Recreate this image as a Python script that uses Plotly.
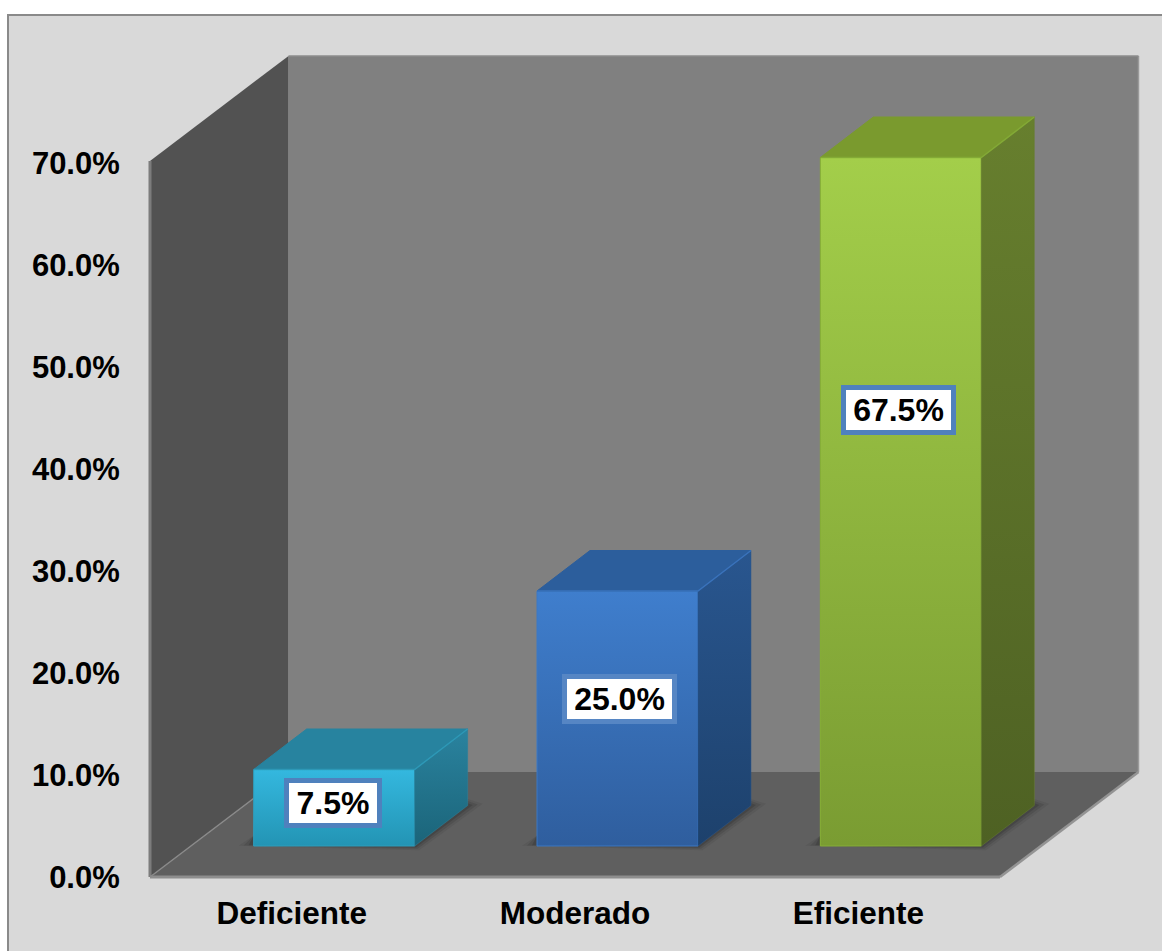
import plotly.graph_objects as go

# ---- data ----
categories = ["Deficiente", "Moderado", "Eficiente"]
values = [7.5, 25.0, 67.5]
value_labels = ["7.5%", "25.0%", "67.5%"]
y_ticks = [0, 10, 20, 30, 40, 50, 60, 70]

# ---- 3-D look (styles and projection, not data) ----
W, H = 1162, 951
PX_X = 283.33        # px per category band
PX_Y = 10.2          # px per percentage point
L, R, T, B = 146, 1143, 54, 881   # plot area in px
X0_PX, Y0_PX = 150, 877           # where category edge -0.5 and 0 % fall
xr = [-0.5 - (X0_PX - L) / PX_X, -0.5 + (R - X0_PX) / PX_X]
yr = [-(B - Y0_PX) / PX_Y, (Y0_PX - T) / PX_Y]

WALL_DX, WALL_DY = 138.5 / PX_X, 105 / PX_Y
BAR_DX, BAR_DY = 53 / PX_X, 40.5 / PX_Y
BAR_W = 161 / PX_X
BAR_SHIFT = 42.5 / PX_X
BAR_BASE = 31 / PX_Y
AXIS_TOP = 70.2

front_colors = [("#34b8df", "#2394b4"), ("#3f7ecd", "#2f5e9e"), ("#a3ce4a", "#7a9c32")]
side_colors = [("#2a839f", "#1b6479"), ("#29568f", "#1d416c"), ("#677f2e", "#4e6123")]
top_colors = ["#27839f", "#2c5e9c", "#7a9a2e"]
edge_colors = ["#2f9ebd", "#3d78c4", "#86ae38"]
box_colors = ["#4f81bd", "#5686c4", "#4f81bd"]
label_y = [7.3, 17.5, 45.8]
label_dx = [-1.5 / PX_X, 2 / PX_X, -2 / PX_X]
label_w = [84, 101, 101]
FONT = "Liberation Sans, Arial, sans-serif"

xa, xb = -0.5, 2.5


def poly(xs, ys, color, line=None, lw=0):
    path = "M " + " L ".join(f"{x},{y}" for x, y in zip(xs, ys)) + " Z"
    return dict(type="path", path=path, xref="x", yref="y", layer="below",
                fillcolor=color, line=dict(color=line or "rgba(0,0,0,0)", width=lw))


shapes = [
    dict(type="rect", xref="paper", yref="paper", layer="below",
         x0=(8 - L) / (R - L), x1=(W + 20 - L) / (R - L),
         y0=(B - (H + 20)) / (B - T), y1=(B - 15) / (B - T),
         fillcolor="#d9d9d9", line=dict(color="#8a8a8a", width=2)),
    # back wall
    poly([xa + WALL_DX, xb + WALL_DX, xb + WALL_DX, xa + WALL_DX],
         [WALL_DY, WALL_DY, AXIS_TOP + WALL_DY, AXIS_TOP + WALL_DY], "#808080"),
    # side wall
    poly([xa, xa + WALL_DX, xa + WALL_DX, xa],
         [0, WALL_DY, AXIS_TOP + WALL_DY, AXIS_TOP], "#525252"),
    # floor
    poly([xa, xb, xb + WALL_DX, xa + WALL_DX], [0, 0, WALL_DY, WALL_DY], "#5f5f5f"),
    # edges
    dict(type="line", xref="x", yref="y", layer="below", x0=xa, x1=xa, y0=0, y1=AXIS_TOP,
         line=dict(color="#7c7c7c", width=3)),
    dict(type="line", xref="x", yref="y", layer="below", x0=xa, x1=xb, y0=0, y1=0,
         line=dict(color="#8e8e8e", width=3)),
    dict(type="line", xref="x", yref="y", layer="below", x0=xb, x1=xb + WALL_DX, y0=0, y1=WALL_DY,
         line=dict(color="#949494", width=2.5)),
    dict(type="line", xref="x", yref="y", layer="below", x0=xa, x1=xa + WALL_DX, y0=0, y1=WALL_DY,
         line=dict(color="#8a8a8a", width=1.5)),
    dict(type="line", xref="x", yref="y", layer="below", x0=xb + WALL_DX, x1=xb + WALL_DX, y0=WALL_DY, y1=AXIS_TOP + WALL_DY,
         line=dict(color="#9a9a9a", width=1.5)),
    dict(type="line", xref="x", yref="y", layer="below", x0=xa + WALL_DX, x1=xb + WALL_DX, y0=AXIS_TOP + WALL_DY, y1=AXIS_TOP + WALL_DY,
         line=dict(color="#8c8c8c", width=1.5)),
]

fronts_x = [i + BAR_SHIFT for i in range(len(values))]

# contact shadows on the floor
for cx in fronts_x:
    x0, x1 = cx - BAR_W / 2, cx + BAR_W / 2
    for grow, alpha in [(15, 0.08), (10, 0.12), (5, 0.18)]:
        gx, gy = grow / PX_X, grow * 0.55 / PX_Y
        shapes.append(poly(
            [x0 - gx, x1 + gx * 0.3, x1 + BAR_DX + gx, x1 + BAR_DX, x0],
            [BAR_BASE + 0.1 - gy * 0.1, BAR_BASE - gy * 0.5, BAR_BASE + BAR_DY + gy * 0.2,
             BAR_BASE + BAR_DY + gy * 0.8, BAR_BASE + 1.0],
            f"rgba(20,20,20,{alpha})"))

traces = []
# front faces, real bars
traces.append(go.Bar(x=fronts_x, y=values, base=[BAR_BASE] * 3, width=BAR_W,
                     marker=dict(color=[c[1] for c in front_colors], line=dict(width=0)),
                     showlegend=False, hoverinfo="skip"))

for i, v in enumerate(values):
    cx = fronts_x[i]
    x0, x1 = cx - BAR_W / 2, cx + BAR_W / 2
    y0, y1 = BAR_BASE, BAR_BASE + v
    # front gradient overlay
    traces.append(go.Scatter(
        x=[x0, x1, x1, x0, x0], y=[y0, y0, y1, y1, y0], mode="lines", fill="toself",
        line=dict(width=1, color=edge_colors[i]),
        fillgradient=dict(type="vertical", colorscale=[[0, front_colors[i][1]], [1, front_colors[i][0]]]),
        showlegend=False, hoverinfo="skip"))
    # side face
    traces.append(go.Scatter(
        x=[x1, x1 + BAR_DX, x1 + BAR_DX, x1, x1], y=[y0, y0 + BAR_DY, y1 + BAR_DY, y1, y0],
        mode="lines", fill="toself", line=dict(width=0.5, color=side_colors[i][0]),
        fillgradient=dict(type="vertical", colorscale=[[0, side_colors[i][1]], [1, side_colors[i][0]]]),
        showlegend=False, hoverinfo="skip"))
    # top face
    traces.append(go.Scatter(
        x=[x0, x1, x1 + BAR_DX, x0 + BAR_DX, x0], y=[y1, y1, y1 + BAR_DY, y1 + BAR_DY, y1],
        mode="lines", fill="toself", fillcolor=top_colors[i], line=dict(width=1, color=top_colors[i]),
        showlegend=False, hoverinfo="skip"))
    # lit edges of the top face
    traces.append(go.Scatter(
        x=[x0, x1, x1 + BAR_DX], y=[y1, y1, y1 + BAR_DY], mode="lines",
        line=dict(width=1.5, color=edge_colors[i]), opacity=0.8,
        showlegend=False, hoverinfo="skip"))

annotations = [
    dict(x=fronts_x[i] + label_dx[i], y=label_y[i], xref="x", yref="y", text=value_labels[i],
         showarrow=False, bgcolor="#ffffff", bordercolor=box_colors[i], borderwidth=5, borderpad=2,
         width=label_w[i], height=36, align="center", valign="middle",
         font=dict(family=FONT, size=32, color="#000000", weight=700))
    for i in range(len(values))
]

fig = go.Figure(traces)
fig.update_layout(
    width=W, height=H, margin=dict(l=L, r=W - R, t=T, b=H - B, pad=0),
    paper_bgcolor="#ffffff", plot_bgcolor="rgba(0,0,0,0)", bargap=0,
    showlegend=False, shapes=shapes, annotations=annotations,
    xaxis=dict(range=xr, tickmode="array", tickvals=[0, 1, 2], ticktext=categories,
               showgrid=False, zeroline=False, showline=False, ticks="outside", ticklen=4,
               tickcolor="rgba(0,0,0,0)", tickfont=dict(family=FONT, size=31.5, color="#000000", weight=700)),
    yaxis=dict(range=yr, tickmode="array", tickvals=y_ticks, ticktext=[f"{t:.1f}%" for t in y_ticks],
               showgrid=False, zeroline=False, showline=False, ticks="outside", ticklen=19,
               tickcolor="rgba(0,0,0,0)", tickfont=dict(family=FONT, size=31, color="#000000", weight=700)),
)
fig.write_html("out.html", config={"displayModeBar": False}, post_script="document.body.style.margin='0';")
